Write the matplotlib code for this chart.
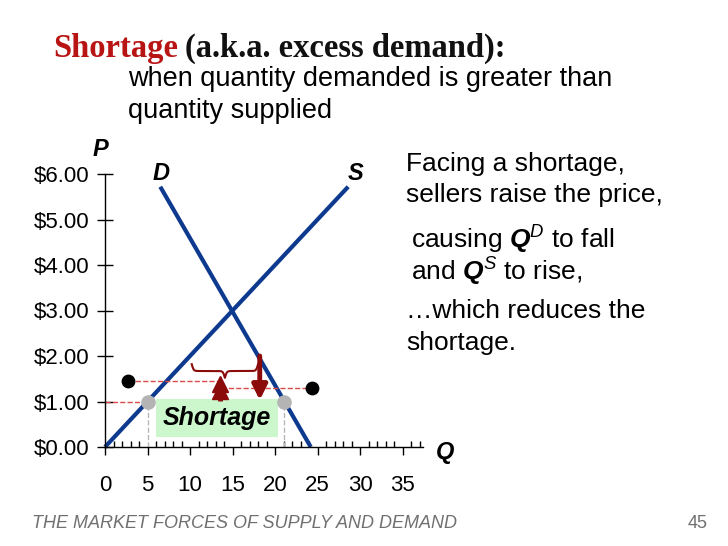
import numpy as np
import matplotlib.pyplot as plt
from matplotlib.patches import FancyArrowPatch, Rectangle

# curves
q_supply = [0, 28.6]
p_supply = [0, 5.72]
q_demand = [6.5, 24.2]
p_demand = [5.72, 0]

# price below equilibrium, where the shortage is
p_low = 1.0
qs_low = 5
qd_low = 21

# sellers raising the price
q_dots = [2.7, 24.3]
p_dots = [1.45, 1.3]
q_up, p_up = 13.5, [1.02, 1.38]
q_down, p_down = 18.2, [2.0, 1.03]

y_ticks = [0, 1, 2, 3, 4, 5, 6]
y_labels = ["$%.2f" % v for v in y_ticks]
x_ticks = [0, 5, 10, 15, 20, 25, 30, 35]

blue = "#0d3a8e"
dark_red = "#8b0a0a"
dash_red = "#e04848"

plt.rcParams['font.family'] = ['Liberation Sans', 'DejaVu Sans']
plt.rcParams['mathtext.fontset'] = 'custom'
plt.rcParams['mathtext.bf'] = 'Liberation Sans:bold:italic'
plt.rcParams['mathtext.it'] = 'Liberation Sans:italic'
plt.rcParams['mathtext.rm'] = 'Liberation Sans'

fig = plt.figure(figsize=(7.28, 5.46), dpi=100)
ax = fig.add_axes([105/728, 99/546, 318/728, 273/546])
ax.set_xlim(0, 37.4)
ax.set_ylim(0, 6)

for s in ['top', 'right']:
    ax.spines[s].set_visible(False)
ax.spines['left'].set_linewidth(1)
ax.spines['bottom'].set_linewidth(1)

ax.set_yticks(y_ticks)
ax.set_yticklabels(y_labels, fontsize=16)
ax.tick_params(axis='y', direction='inout', length=12, width=1, pad=5)
ax.set_xticks(x_ticks)
ax.set_xticks(np.arange(0, 38, 1), minor=True)
ax.set_xticklabels([str(v) for v in x_ticks], fontsize=16)
ax.tick_params(axis='x', which='major', direction='out', length=6, width=1, pad=14)
ax.tick_params(axis='x', which='minor', direction='in', length=4, width=1)

# supply and demand
ax.plot(q_supply, p_supply, color=blue, lw=3, solid_capstyle='butt', clip_on=False)
ax.plot(q_demand, p_demand, color=blue, lw=3, solid_capstyle='butt', clip_on=False)

# price line and shortage bounds
ax.plot([0, qs_low], [p_low, p_low], ls='--', color=dash_red, lw=1)
ax.plot([qs_low, qs_low], [0, p_low], ls='--', color='#b8b8b8', lw=1)
ax.plot([qd_low, qd_low], [0, p_low], ls='--', color='#b8b8b8', lw=1)
ax.scatter([qs_low, qd_low], [p_low, p_low], s=90, color='#b4b4b4', zorder=5, clip_on=False)

# dashed lines from the new prices
ax.plot([q_dots[0], q_up], [p_dots[0], p_dots[0]], ls='--', color=dash_red, lw=1)
ax.plot([q_up + 0.2, q_dots[1]], [p_dots[1], p_dots[1]], ls='--', color=dash_red, lw=1)
ax.scatter(q_dots, p_dots, s=80, color='black', zorder=5, clip_on=False)

# up arrow with two stacked heads
ax.plot([q_up, q_up], [p_up[0], p_up[1]], color=dark_red, lw=3.5, solid_capstyle='butt', zorder=5)
ax.plot([q_up, q_up], [p_up[1] - 0.16, p_up[1]], ls='none', marker='^', ms=11,
        color=dark_red, zorder=5)
# down arrow
ax.add_patch(FancyArrowPatch((q_down, p_down[0]), (q_down, p_down[1]),
                             arrowstyle='-|>', mutation_scale=22, color=dark_red, lw=3.5,
                             shrinkA=0, shrinkB=0, zorder=5))

# curly brace over the gap, pointing down
bx = np.linspace(10.2, 18.0, 201)
half = bx[:101]
beta = 9.0
yh = 1 / (1 + np.exp(-beta * (half - half[0]))) + 1 / (1 + np.exp(-beta * (half - half[-1])))
yb = np.concatenate((yh, yh[-2::-1]))
ax.plot(bx, 1.82 - 0.3 * (yb - 0.5), color=dark_red, lw=1.5)

# shortage label
ax.add_patch(Rectangle((6.0, 0.22), 14.3, 0.83, fc='#ccf7cc', ec='none', zorder=4))
ax.text(13.15, 0.63, "Shortage", fontsize=18, fontweight='bold', fontstyle='italic',
        ha='center', va='center', zorder=6)

# axis and curve labels
lab = dict(fontsize=17, fontweight='bold', fontstyle='italic', ha='center', va='center')
fig.text(100/728, 1 - 150/546, "P", **lab)
fig.text(445/728, 1 - 453/546, "Q", **lab)
fig.text(161/728, 1 - 174/546, "D", **lab)
fig.text(356/728, 1 - 174/546, "S", **lab)

# title
t1 = fig.text(53/728, 1 - 48/546, "Shortage", fontsize=23.5, fontweight='bold',
              family='Liberation Serif', color='#b81414', va='center')
fig.canvas.draw()
bb = t1.get_window_extent()
fig.text(bb.x1 / 728 + 0.009, 1 - 48/546, "(a.k.a. excess demand):", fontsize=23.5, fontweight='bold',
         family='Liberation Serif', color='#111111', va='center')
fig.text(128/728, 1 - 79/546, "when quantity demanded is greater than", fontsize=19.5, va='center')
fig.text(128/728, 1 - 111/546, "quantity supplied", fontsize=19.5, va='center')

# explanation on the right
fs = 19
fig.text(406/728, 1 - 164/546, "Facing a shortage,", fontsize=fs, va='center')
fig.text(406/728, 1 - 195/546, "sellers raise the price,", fontsize=fs, va='center')
fig.text(411/728, 1 - 240/546, r"causing $\mathbf{Q}^{\mathit{D}}$ to fall", fontsize=fs, va='center')
fig.text(411/728, 1 - 272/546, r"and $\mathbf{Q}^{\mathit{S}}$ to rise,", fontsize=fs, va='center')
fig.text(406/728, 1 - 311/546, "\u2026which reduces the", fontsize=fs, va='center')
fig.text(406/728, 1 - 343/546, "shortage.", fontsize=fs, va='center')

# footer
fig.text(32/728, 1 - 524/546, "THE MARKET FORCES OF SUPPLY AND DEMAND", fontsize=13,
         fontstyle='italic', color='#707070', va='center')
fig.text(708/728, 1 - 523/546, "45", fontsize=13, color='#707070', va='center', ha='right')

fig.savefig("out.png", dpi=100)
